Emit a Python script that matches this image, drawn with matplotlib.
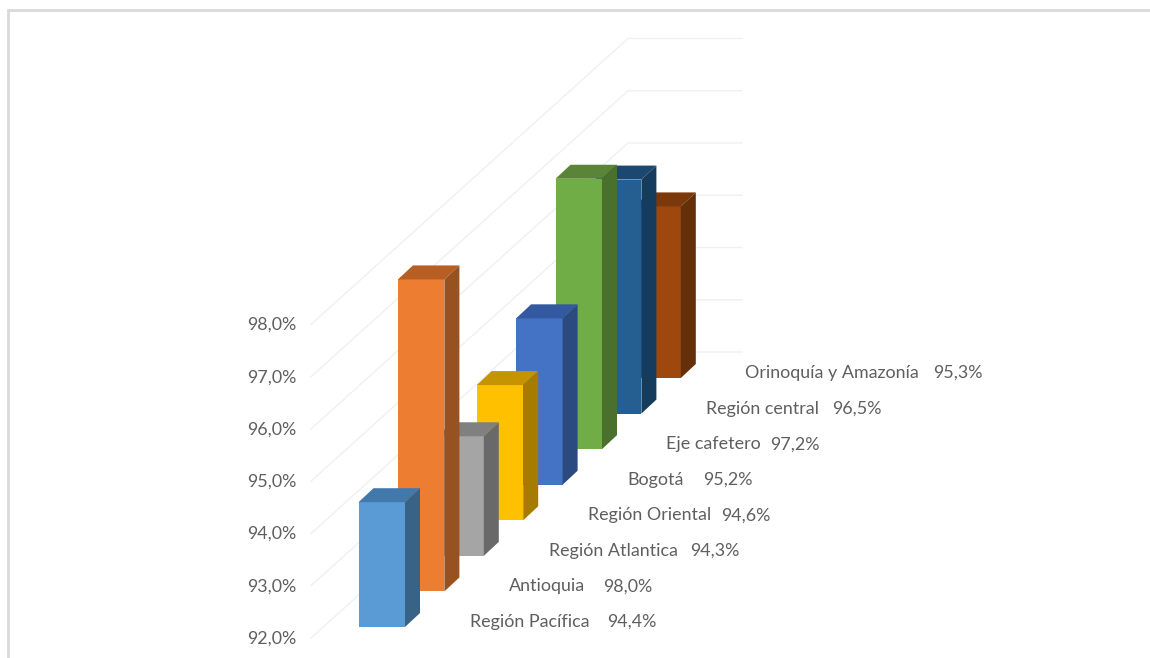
import matplotlib
matplotlib.use("Agg")
import matplotlib.pyplot as plt

# ---- data ----
categories = ["Región Pacífica", "Antioquia", "Región Atlantica", "Región Oriental",
              "Bogotá", "Eje cafetero", "Región central", "Orinoquía y Amazonía"]
values = [94.4, 98.0, 94.3, 94.6, 95.2, 97.2, 96.5, 95.3]
y_ticks = [92, 93, 94, 95, 96, 97, 98]

# ---- style ----
front = ["#5B9BD5", "#ED7D31", "#A5A5A5", "#FFC000", "#4472C4", "#70AD47", "#255E91", "#9E480E"]
top = ["#4279AC", "#B65E24", "#808080", "#C59400", "#3459A0", "#5A8538", "#1C476E", "#7A380B"]
side = ["#386387", "#975220", "#696969", "#A67C00", "#2B4A80", "#4A702E", "#163C5D", "#652F09"]
value_left = [607, 603, 690, 721, 703, 770, 832, 933]

# ---- oblique projection (pixels) ----
V0 = 92.0
UNIT = 52.0
X0, Y0 = 358.5, 627.0
DX, DY = 39.4, -35.57
W = 46.5
DEPTH_X, DEPTH_Y = 15.0, -14.0
TEXT = "#5f5f5f"
FONT = "Lato"
FS = 12.9


def proj(i, v):
    return X0 + i * DX, Y0 + i * DY - (v - V0) * UNIT


fig = plt.figure(figsize=(11.5, 6.58), dpi=100, facecolor="white")
ax = fig.add_axes([0, 0, 1, 1])
ax.set_xlim(0, 1150)
ax.set_ylim(658, 0)
ax.axis("off")

# frame of the screenshot
ax.plot([8, 8, 1150], [658, 10, 10], color="#d9d9d9", lw=2.0, solid_joinstyle="miter")

# gridlines on the side wall and back wall
for t in y_ticks:
    dy = (t - V0) * 52.25
    ax.plot([311, 628, 742], [638 - dy, 352 - dy, 352 - dy], color="#f0f0f0", lw=1.0, zorder=1)
    ax.text(296, 638.5 - dy, f"{t:.1f}%".replace(".", ","), ha="right", va="center",
            color=TEXT, fontsize=FS, family=FONT)

# bars back to front
for i in range(len(values) - 1, -1, -1):
    v = values[i]
    xl, yb = proj(i, V0)
    _, yt = proj(i, v)
    xr = xl + W
    z = 10 + (len(values) - i)
    ax.fill([xl, xr, xr, xl], [yb, yb, yt, yt], color=front[i], lw=0, zorder=z)
    ax.fill([xl, xr, xr + DEPTH_X, xl + DEPTH_X],
            [yt, yt, yt + DEPTH_Y, yt + DEPTH_Y], color=top[i], lw=0, zorder=z)
    ax.fill([xr, xr + DEPTH_X, xr + DEPTH_X, xr],
            [yb, yb + DEPTH_Y, yt + DEPTH_Y, yt], color=side[i], lw=0, zorder=z)

# category labels with values
for i, (c, v) in enumerate(zip(categories, values)):
    y = 622 - i * 35.57
    ax.text(470 + i * 39.3, y, c, ha="left", va="center", color=TEXT, fontsize=FS, family=FONT)
    ax.text(value_left[i], y, f"{v:.1f}%".replace(".", ","), ha="left", va="center",
            color=TEXT, fontsize=FS, family=FONT)

fig.savefig("out.png", dpi=100, facecolor="white")
